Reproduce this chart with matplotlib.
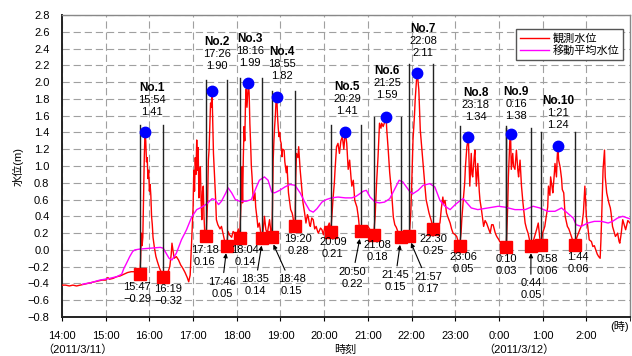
import matplotlib
matplotlib.use('Agg')
import matplotlib.pyplot as plt

plt.rcParams['font.family'] = ['Liberation Sans', 'Noto Sans CJK JP', 'DejaVu Sans']
plt.rcParams['font.size'] = 8

# ---- observed water level (観測水位) ----
obs_time = ['14:00', '14:05', '14:10', '14:15', '14:20', '14:25', '14:30', '14:35', '14:40', '14:45',
            '14:50', '14:55', '15:00', '15:03', '15:05', '15:10', '15:15', '15:20', '15:25', '15:30',
            '15:35', '15:40', '15:44', '15:47', '15:48', '15:49', '15:50', '15:51', '15:52', '15:53',
            '15:54', '15:55', '15:56', '15:57', '15:58', '15:59', '16:00', '16:01', '16:02', '16:03',
            '16:04', '16:05', '16:07', '16:09', '16:11', '16:14', '16:17', '16:19', '16:22', '16:25',
            '16:28', '16:30', '16:31', '16:32', '16:34', '16:37', '16:40', '16:43', '16:46', '16:49',
            '16:52', '16:54', '16:56', '16:58', '17:00', '17:01', '17:02', '17:03', '17:04', '17:05',
            '17:06', '17:07', '17:08', '17:09', '17:10', '17:11', '17:12', '17:13', '17:14', '17:15',
            '17:16', '17:18', '17:20', '17:21', '17:22', '17:23', '17:24', '17:25', '17:26', '17:27',
            '17:28', '17:29', '17:30', '17:31', '17:32', '17:34', '17:37', '17:39', '17:41', '17:43',
            '17:46', '17:48', '17:50', '17:53', '17:55', '17:57', '18:00', '18:02', '18:04', '18:06',
            '18:07', '18:08', '18:09', '18:10', '18:11', '18:12', '18:13', '18:14', '18:15', '18:16',
            '18:17', '18:18', '18:19', '18:20', '18:21', '18:22', '18:23', '18:25', '18:26', '18:28',
            '18:29', '18:31', '18:33', '18:35', '18:37', '18:38', '18:40', '18:42', '18:45', '18:47',
            '18:48', '18:49', '18:50', '18:51', '18:52', '18:53', '18:54', '18:55', '18:56', '18:57',
            '18:58', '18:59', '19:00', '19:01', '19:02', '19:03', '19:05', '19:06', '19:08', '19:09',
            '19:11', '19:13', '19:14', '19:16', '19:17', '19:18', '19:20', '19:21', '19:22', '19:24',
            '19:25', '19:27', '19:29', '19:31', '19:33', '19:35', '19:37', '19:38', '19:40', '19:41',
            '19:43', '19:45', '19:47', '19:49', '19:51', '19:52', '19:55', '19:57', '19:59', '20:01',
            '20:04', '20:07', '20:09', '20:11', '20:12', '20:14', '20:15', '20:17', '20:19', '20:21',
            '20:23', '20:25', '20:27', '20:29', '20:31', '20:33', '20:35', '20:37', '20:38', '20:40',
            '20:42', '20:45', '20:47', '20:48', '20:50', '20:53', '20:56', '21:00', '21:03', '21:05',
            '21:08', '21:10', '21:12', '21:14', '21:16', '21:18', '21:19', '21:21', '21:23', '21:25',
            '21:26', '21:28', '21:30', '21:33', '21:35', '21:37', '21:39', '21:42', '21:45', '21:48',
            '21:51', '21:54', '21:57', '21:59', '22:00', '22:02', '22:04', '22:05', '22:07', '22:08',
            '22:09', '22:10', '22:12', '22:15', '22:18', '22:20', '22:24', '22:28', '22:30', '22:33',
            '22:36', '22:39', '22:41', '22:43', '22:44', '22:46', '22:48', '22:50', '22:53', '22:55',
            '22:57', '23:00', '23:02', '23:04', '23:06', '23:08', '23:09', '23:11', '23:13', '23:14',
            '23:16', '23:18', '23:19', '23:20', '23:22', '23:23', '23:24', '23:26', '23:27', '23:29',
            '23:30', '23:31', '23:33', '23:34', '23:36', '23:39', '23:41', '23:43', '23:46', '23:48',
            '23:50', '23:52', '23:55', '23:57', '0:00', '0:01', '0:04', '0:07', '0:10', '0:12',
            '0:13', '0:15', '0:16', '0:17', '0:19', '0:20', '0:22', '0:24', '0:26', '0:27',
            '0:29', '0:31', '0:33', '0:35', '0:36', '0:38', '0:40', '0:42', '0:44', '0:47',
            '0:49', '0:52', '0:54', '0:56', '0:58', '1:00', '1:03', '1:05', '1:07', '1:08',
            '1:10', '1:11', '1:13', '1:14', '1:16', '1:17', '1:19', '1:20', '1:21', '1:22',
            '1:24', '1:26', '1:27', '1:29', '1:31', '1:34', '1:36', '1:38', '1:41', '1:44',
            '1:47', '1:51', '1:54', '1:56', '1:58', '1:59', '2:00', '2:02', '2:04', '2:07',
            '2:09', '2:11', '2:13', '2:15', '2:17', '2:19', '2:20', '2:21', '2:23', '2:25',
            '2:26', '2:28', '2:30', '2:31', '2:33', '2:34', '2:36', '2:38', '2:40', '2:43',
            '2:45', '2:46', '2:48', '2:50', '2:52', '2:54', '2:57', '3:00']
obs_level = [-0.42, -0.42, -0.43, -0.42, -0.43, -0.42, -0.41, -0.40, -0.39, -0.38,
             -0.37, -0.36, -0.36, -0.33, -0.35, -0.34, -0.32, -0.31, -0.29, -0.27,
             -0.26, -0.26, -0.27, -0.29, -0.10, 0.20, 0.05, 0.15, 0.60, 1.10,
             1.41, 1.30, 1.05, 1.10, 0.85, 0.95, 0.70, 0.78, 0.65, 0.40,
             0.30, 0.15, 0.02, -0.08, -0.14, -0.22, -0.28, -0.32, -0.30, -0.28,
             -0.20, -0.05, 0.08, 0.02, -0.10, -0.08, -0.12, -0.18, -0.22, -0.27,
             -0.33, -0.38, -0.30, 0.10, 0.50, 0.95, 0.70, 1.10, 0.90, 1.31,
             0.95, 1.22, 0.62, 0.90, 0.99, 0.60, 0.36, 0.70, 0.76, 0.40,
             0.21, 0.16, 0.60, 1.07, 1.20, 1.47, 1.75, 1.70, 1.90, 1.55,
             1.15, 0.96, 0.75, 0.60, 0.36, 0.30, 0.25, 0.28, 0.20, 0.12,
             0.05, 0.22, 0.18, 0.15, 0.22, 0.20, 0.17, 0.25, 0.14, 0.60,
             0.99, 0.56, 1.10, 1.47, 1.30, 1.75, 1.92, 1.70, 1.85, 1.99,
             1.87, 1.50, 1.27, 1.00, 0.87, 0.70, 0.59, 0.68, 0.51, 0.36,
             0.27, 0.32, 0.20, 0.14, 0.30, 0.40, 0.24, 0.20, 0.36, 0.20,
             0.15, 0.50, 1.07, 1.30, 1.47, 1.60, 1.79, 1.82, 1.59, 1.45,
             1.35, 1.40, 1.30, 1.27, 1.11, 1.20, 1.19, 1.05, 0.92, 1.00,
             0.68, 0.55, 0.48, 0.44, 0.40, 0.34, 0.28, 0.87, 1.15, 1.10,
             1.23, 0.96, 0.76, 0.56, 0.45, 0.32, 0.42, 0.40, 0.30, 0.28,
             0.38, 0.36, 0.25, 0.28, 0.22, 0.20, 0.26, 0.24, 0.18, 0.28,
             0.25, 0.32, 0.21, 0.45, 0.59, 0.80, 0.96, 1.23, 1.27, 1.15,
             1.30, 1.35, 1.20, 1.41, 1.27, 0.96, 1.07, 0.85, 0.76, 0.83,
             0.59, 0.51, 0.39, 0.30, 0.22, 0.25, 0.24, 0.28, 0.24, 0.22,
             0.18, 0.40, 0.80, 1.11, 1.51, 1.45, 1.51, 1.47, 1.52, 1.59,
             1.43, 1.19, 0.92, 0.64, 0.39, 0.30, 0.27, 0.20, 0.15, 0.20,
             0.18, 0.20, 0.17, 0.45, 0.71, 1.31, 1.60, 1.79, 2.05, 2.11,
             2.00, 1.91, 1.43, 1.11, 0.80, 0.60, 0.44, 0.32, 0.25, 0.28,
             0.30, 0.32, 0.50, 0.63, 0.55, 0.59, 0.44, 0.39, 0.32, 0.25,
             0.20, 0.18, 0.16, 0.10, 0.05, 0.20, 0.36, 0.59, 0.80, 0.99,
             1.23, 1.34, 1.07, 0.76, 1.15, 0.90, 0.87, 1.10, 1.19, 0.76,
             0.90, 1.03, 0.70, 0.59, 0.48, 0.28, 0.35, 0.32, 0.25, 0.20,
             0.30, 0.30, 0.20, 0.16, 0.12, 0.10, 0.08, 0.06, 0.03, 0.50,
             0.87, 1.31, 1.38, 0.96, 1.15, 1.00, 0.96, 1.19, 0.95, 0.87,
             1.07, 0.76, 0.56, 0.40, 0.32, 0.25, 0.20, 0.12, 0.05, 0.10,
             0.16, 0.25, 0.32, 0.15, 0.06, 0.20, 0.28, 0.40, 0.51, 0.76,
             0.65, 0.87, 0.75, 0.68, 0.90, 1.03, 0.87, 1.10, 1.24, 1.07,
             0.99, 0.85, 0.72, 0.68, 0.40, 0.28, 0.25, 0.20, 0.12, 0.06,
             0.15, 0.24, 0.30, 0.44, 0.76, 0.60, 0.40, 0.28, 0.12, 0.10,
             0.04, 0.05, 0.00, -0.05, -0.08, -0.10, 0.10, 0.36, 0.96, 1.19,
             0.87, 0.68, 0.60, 0.56, 0.50, 0.44, 0.28, 0.22, 0.16, 0.20,
             0.10, 0.08, 0.20, 0.36, 0.30, 0.24, 0.35, 0.32]

# ---- moving average (移動平均水位) ----
ma_time = ['14:28', '14:40', '14:52', '15:05', '15:15', '15:22', '15:25', '15:28', '15:33', '15:37',
           '15:40', '15:47', '16:01', '16:15', '16:19', '16:23', '16:27', '16:31', '16:37', '16:44',
           '16:51', '16:58', '17:05', '17:12', '17:19', '17:26', '17:30', '17:35', '17:39', '17:45',
           '17:48', '17:53', '17:58', '18:04', '18:13', '18:20', '18:27', '18:31', '18:38', '18:43',
           '18:48', '18:52', '18:59', '19:06', '19:13', '19:20', '19:27', '19:34', '19:40', '19:45',
           '19:50', '19:57', '20:03', '20:10', '20:19', '20:29', '20:38', '20:44', '20:54', '20:58',
           '21:03', '21:10', '21:16', '21:23', '21:30', '21:36', '21:43', '21:48', '21:53', '21:58',
           '22:02', '22:09', '22:16', '22:25', '22:32', '22:39', '22:46', '22:53', '23:00', '23:07',
           '23:11', '23:16', '23:22', '23:31', '23:45', '23:59', '0:08', '0:22', '0:36', '0:47',
           '0:56', '1:07', '1:17', '1:26', '1:34', '1:42', '1:46', '1:53', '2:02', '2:11',
           '2:21', '2:30', '2:36', '2:43', '2:50', '3:00']
ma_level = [-0.41, -0.39, -0.36, -0.34, -0.32, -0.29, -0.22, -0.17, -0.08, -0.02,
            0.00, 0.01, 0.02, 0.03, 0.02, -0.04, -0.10, -0.12, -0.04, 0.12,
            0.24, 0.39, 0.48, 0.51, 0.55, 0.61, 0.60, 0.54, 0.58, 0.68,
            0.74, 0.68, 0.60, 0.58, 0.58, 0.60, 0.75, 0.83, 0.87, 0.83,
            0.69, 0.68, 0.71, 0.75, 0.78, 0.77, 0.68, 0.56, 0.47, 0.45,
            0.49, 0.57, 0.60, 0.62, 0.63, 0.62, 0.62, 0.64, 0.70, 0.71,
            0.63, 0.57, 0.56, 0.57, 0.61, 0.71, 0.83, 0.81, 0.75, 0.69,
            0.67, 0.71, 0.77, 0.79, 0.75, 0.59, 0.52, 0.48, 0.54, 0.59,
            0.61, 0.56, 0.50, 0.48, 0.50, 0.52, 0.51, 0.48, 0.48, 0.52,
            0.50, 0.46, 0.46, 0.50, 0.44, 0.38, 0.30, 0.28, 0.32, 0.34,
            0.34, 0.32, 0.34, 0.38, 0.40, 0.37]

# ---- peaks (No.1 - No.10) ----
peak_time = ['15:54', '17:26', '18:16', '18:55', '20:29', '21:25', '22:08', '23:18', '0:16', '1:21']
peak_level = [1.41, 1.90, 1.99, 1.82, 1.41, 1.59, 2.11, 1.34, 1.38, 1.24]

# ---- troughs ----
trough_time = ['15:47', '16:19', '17:18', '17:46', '18:04', '18:35', '18:48', '19:20', '20:09', '20:50',
               '21:08', '21:45', '21:57', '22:30', '23:06', '0:10', '0:44', '0:58', '1:44']
trough_level = [-0.29, -0.32, 0.16, 0.05, 0.14, 0.14, 0.15, 0.28, 0.21, 0.22,
                0.18, 0.15, 0.17, 0.25, 0.05, 0.03, 0.05, 0.06, 0.06]

# wave bounds (start / end trough of each numbered wave) and marker-bar tops
wave_start = ['15:47', '17:18', '18:04', '18:48', '20:09', '21:08', '21:57', '23:06', '0:10', '0:58']
wave_end = ['16:19', '17:46', '18:35', '19:20', '20:50', '21:45', '22:30', '0:10', '0:44', '1:44']
wave_top = [1.49, 2.02, 2.05, 1.90, 1.49, 1.59, 2.22, 1.48, 1.45, 1.41]

tick_labels = ['14:00', '15:00', '16:00', '17:00', '18:00', '19:00', '20:00',
               '21:00', '22:00', '23:00', '0:00', '1:00', '2:00']

# layout of the annotation text (hours after 14:00, water level)
peak_label_xy = [(2.06, 2.00), (3.55, 2.55), (4.30, 2.59), (5.03, 2.43), (6.52, 2.01),
                 (7.44, 2.20), (8.26, 2.70), (9.47, 1.94), (10.39, 1.95), (11.35, 1.85)]
trough_label_xy = [(1.72, -0.38), (2.43, -0.41), (3.27, 0.06), (3.66, -0.32), (4.19, 0.06),
                   (4.42, -0.29), (5.26, -0.29), (5.40, 0.19), (6.20, 0.15), (6.64, -0.20),
                   (7.21, 0.12), (7.62, -0.24), (8.38, -0.26), (8.49, 0.19), (9.18, -0.03),
                   (10.18, -0.05), (10.73, -0.34), (11.12, -0.05), (11.81, -0.03)]
trough_arrow = [False, False, False, True, False, True, True, False, False, True,
                False, True, True, False, False, False, True, False, False]


def hrs(s):
    h, m = map(int, s.split(':'))
    return (h - 14) % 24 + m / 60


def fmt(v):
    return f'{v:.2f}'.replace('-', '\u2212')


fig = plt.figure(figsize=(6.32, 3.56), dpi=100)
ax = fig.add_axes([62 / 632, 39 / 356, 568 / 632, 302 / 356])

ax.plot([hrs(t) for t in obs_time], obs_level, color='#ff0000', lw=1.0,
        label='観測水位', zorder=3)
ax.plot([hrs(t) for t in ma_time], ma_level, color='#ff00ff', lw=1.0,
        label='移動平均水位', zorder=4)

# vertical bars bounding each wave
trough_lookup = dict(zip(trough_time, trough_level))
for s, e, top in zip(wave_start, wave_end, wave_top):
    for t in (s, e):
        ax.plot([hrs(t), hrs(t)], [trough_lookup[t], top], color='#222222', lw=1.0, zorder=5)

ax.plot([hrs(t) for t in trough_time], trough_level, 's', color='#ff0000', ms=8.5, zorder=6)
ax.plot([hrs(t) for t in peak_time], peak_level, 'o', color='#0000ff', ms=7.5, zorder=7)

# peak labels
for i, (t, v, (lx, ly)) in enumerate(zip(peak_time, peak_level, peak_label_xy)):
    ax.text(lx, ly, f'No.{i + 1}', ha='center', va='top', fontsize=8.5,
            fontweight='bold', zorder=8)
    ax.text(lx, ly - 0.155, f'{t}\n{v:.2f}', ha='center', va='top', fontsize=8,
            linespacing=1.25, zorder=8)

# trough labels
for t, v, (lx, ly), arr in zip(trough_time, trough_level, trough_label_xy, trough_arrow):
    txt = f'{t}\n{fmt(v)}'
    if arr:
        ax.annotate(txt, xy=(hrs(t), v - 0.04), xytext=(lx, ly), ha='center', va='top',
                    fontsize=8, linespacing=1.25, zorder=8,
                    arrowprops=dict(arrowstyle='-|>', color='black', lw=0.8,
                                    mutation_scale=6, shrinkA=1, shrinkB=3))
    else:
        ax.text(lx, ly, txt, ha='center', va='top', fontsize=8, linespacing=1.25, zorder=8)

ax.set_xlim(0, 13)
ax.set_ylim(-0.8, 2.8)
ax.set_xticks(range(13))
ax.set_xticklabels(tick_labels)
ax.set_xticks([13], minor=True)
ax.set_yticks([round(-0.8 + 0.2 * k, 1) for k in range(19)])
ax.yaxis.set_major_formatter(plt.FuncFormatter(lambda v, p: fmt(v)[:-1] if abs(v) > 1e-9 else '0.0'))
ax.tick_params(axis='x', direction='out', length=3, pad=7, labelsize=8)
ax.tick_params(axis='x', which='minor', direction='out', length=3)
ax.tick_params(axis='y', length=0, pad=9, labelsize=8)
ax.grid(True, color='#a0a0a0', linestyle=(0, (6.5, 3.5)), linewidth=0.8, zorder=0)
ax.set_axisbelow(True)
for side in ('left', 'bottom'):
    ax.spines[side].set_color('#222222')
    ax.spines[side].set_linewidth(1.4)
for side in ('top', 'right'):
    ax.spines[side].set_color('#888888')
    ax.spines[side].set_linewidth(1.0)

ax.text(-0.077, 0.5, '水位(m)', transform=ax.transAxes, rotation=90,
        ha='center', va='center', fontsize=8)
ax.text(6.48, -0.109, '時刻', transform=ax.get_xaxis_transform(),
        ha='center', va='center', fontsize=8)
ax.text(12.77, -0.033, '(時)', transform=ax.get_xaxis_transform(),
        ha='center', va='center', fontsize=8)
ax.text(0.36, -0.109, '（2011/3/11）', transform=ax.get_xaxis_transform(),
        ha='center', va='center', fontsize=8)
ax.text(10.46, -0.109, '（2011/3/12）', transform=ax.get_xaxis_transform(),
        ha='center', va='center', fontsize=8)

leg = ax.legend(loc='upper right', bbox_to_anchor=(0.9877, 0.9536), frameon=True,
                fancybox=False, edgecolor='#555555', framealpha=1, handlelength=2.6,
                handletextpad=0.3, borderpad=0.35, labelspacing=0.15, fontsize=8,
                borderaxespad=0)
leg.get_frame().set_linewidth(1.0)
leg.set_zorder(9)

fig.savefig('out.png', dpi=100)
